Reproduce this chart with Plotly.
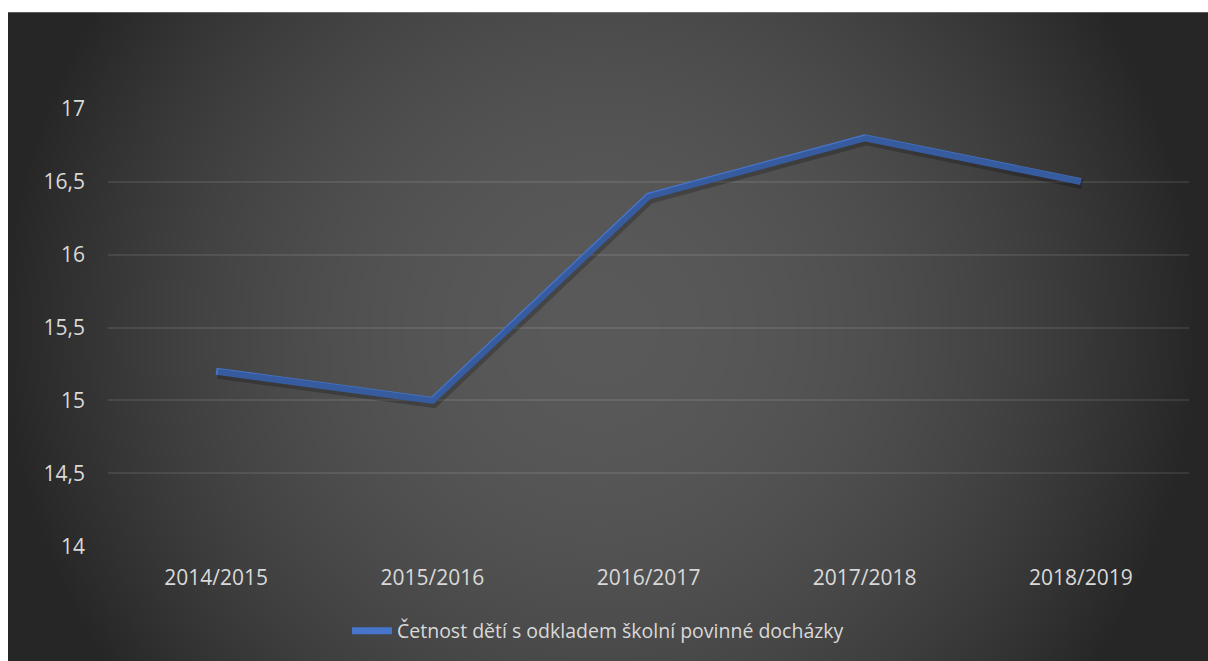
import base64
import struct
import zlib

import plotly.graph_objects as go

# ---------------- data ----------------
school_years = ["2014/2015", "2015/2016", "2016/2017", "2017/2018", "2018/2019"]
deferral_counts = [15.2, 15.0, 16.4, 16.8, 16.5]
series_name = "Četnost dětí s odkladem školní povinné docházky"
y_tick_values = [14, 14.5, 15, 15.5, 16, 16.5, 17]

# ---------------- background (radial gradient, like the Excel chart area) ----------------
def radial_png(w, h, full_w, full_h, cx, cy, radius, c_in, c_out):
    rows = bytearray()
    for j in range(h):
        rows.append(0)
        py = (j + 0.5) / h * full_h
        for i in range(w):
            px = (i + 0.5) / w * full_w
            d = ((px - cx) ** 2 + (py - cy) ** 2) ** 0.5 / radius
            t = min(1.0, d) ** 2
            v = int(round(c_in + (c_out - c_in) * t))
            rows += bytes((v, v, v))
    def chunk(tag, data):
        c = struct.pack(">I", len(data)) + tag + data
        return c + struct.pack(">I", zlib.crc32(tag + data) & 0xFFFFFFFF)
    png = b"\x89PNG\r\n\x1a\n"
    png += chunk(b"IHDR", struct.pack(">IIBBBBB", w, h, 8, 2, 0, 0, 0))
    png += chunk(b"IDAT", zlib.compress(bytes(rows), 9))
    png += chunk(b"IEND", b"")
    return "data:image/png;base64," + base64.b64encode(png).decode()

# full-window figure (body margin removed by the post script)
W, H = 1208, 661
area_x0, area_y0 = 8, 12          # chart-area (dark box) top-left in figure px
ext = 24                          # let the gradient image overshoot the figure edges
area_w, area_h = W - area_x0 + ext, H - area_y0 + ext
ml, mr, mt, mb = 108, 19, 108, 113
plot_w, plot_h = W - ml - mr, H - mt - mb

bg_uri = radial_png(304, 168, area_w, area_h, 592, 318, 600, 0x59, 0x26)

fig = go.Figure()

# soft shadow under the line
fig.add_trace(go.Scatter(
    x=school_years, y=deferral_counts, mode="lines",
    line=dict(color="rgba(0,0,0,0.22)", width=10),
    xaxis="x2", yaxis="y2", showlegend=False, hoverinfo="skip",
))
fig.add_trace(go.Scatter(
    x=school_years, y=deferral_counts, mode="lines", name=series_name,
    line=dict(color="#4675CB", width=7),
))

tick_font = dict(family="Open Sans, Noto Sans, sans-serif", size=21, color="#D9D9D9")
legend_font = dict(family="Open Sans, Noto Sans, sans-serif", size=19.5, color="#D9D9D9")
grid_col = "rgba(255,255,255,0.09)"

x_left = -ml / plot_w
x_area = (area_x0 - ml) / plot_w
y_top = (H - mb) / plot_h
y_area = (H - mb - area_y0) / plot_h
y_bot = -mb / plot_h

fig.update_layout(
    width=W, height=H,
    margin=dict(l=ml, r=mr, t=mt, b=mb),
    paper_bgcolor="#262626",
    plot_bgcolor="rgba(0,0,0,0)",
    separators=", ",
    font=tick_font,
    images=[dict(
        source=bg_uri, xref="paper", yref="paper",
        x=x_area, y=y_area,
        sizex=area_w / plot_w, sizey=area_h / plot_h,
        xanchor="left", yanchor="top", sizing="stretch", layer="below",
    )],
    shapes=[
        dict(type="rect", xref="paper", yref="paper", x0=x_left - 0.01, x1=x_area,
             y0=y_bot - 0.05, y1=y_top + 0.05, fillcolor="white", line_width=0,
             layer="above"),
        dict(type="rect", xref="paper", yref="paper", x0=x_left - 0.01, x1=1.1,
             y0=y_area, y1=y_top + 0.05, fillcolor="white", line_width=0,
             layer="above"),
    ],
    xaxis=dict(
        type="category", range=[-0.5, 4.5], showgrid=False, zeroline=False,
        showline=False, ticks="", tickfont=tick_font, ticklabelstandoff=16,
    ),
    xaxis2=dict(
        type="category", overlaying="x", range=[-0.5 - 1.5 / 216, 4.5 - 1.5 / 216],
        visible=False,
    ),
    yaxis=dict(
        range=[13.995, 17.005], tickvals=y_tick_values, showgrid=True, gridcolor=grid_col,
        gridwidth=1.5, zeroline=False, showline=False, ticks="", tickfont=tick_font,
        ticklabelstandoff=22,
    ),
    yaxis2=dict(
        overlaying="y", range=[13.995 + 2.5 / 146.7, 17.005 + 2.5 / 146.7], visible=False,
    ),
    showlegend=True,
    legend=dict(
        orientation="h", x=(347 - ml) / plot_w, xanchor="left",
        y=(H - mb - 631) / plot_h, yanchor="middle",
        bgcolor="rgba(0,0,0,0)", font=legend_font, itemwidth=40,
    ),
)

fig.write_html(
    "out.html",
    config={"displayModeBar": False},
    post_script=(
        "document.body.style.margin='0';"
        "document.documentElement.style.overflow='hidden';"
    ),
)
